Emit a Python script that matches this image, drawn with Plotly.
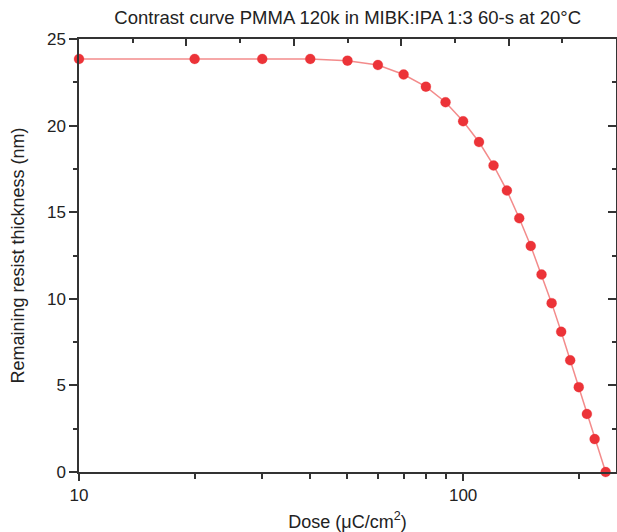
import plotly.graph_objects as go

dose = [10, 20, 30, 40, 50, 60, 70, 80, 90, 100, 110, 120, 130, 140, 150,
        160, 170, 180, 190, 200, 210, 220, 235]
thickness = [23.85, 23.85, 23.85, 23.85, 23.75, 23.5, 22.95, 22.25, 21.35, 20.25,
             19.05, 17.7, 16.25, 14.65, 13.05, 11.4, 9.75, 8.1, 6.45, 4.9,
             3.35, 1.9, 0.0]

x_major = [10, 100]
x_minor = [20, 30, 40, 50, 60, 70, 80, 90, 200]
y_major = [0, 5, 10, 15, 20, 25]

title = "Contrast curve PMMA 120k in MIBK:IPA 1:3 60-s at 20°C"
font_family = "Liberation Sans, Arial, Helvetica, sans-serif"

fig = go.Figure()
fig.add_trace(go.Scatter(
    x=dose, y=thickness, mode="lines+markers",
    line=dict(color="rgba(240,110,110,0.8)", width=1.5),
    marker=dict(color="#ec3338", size=10, line=dict(width=0.5, color="rgba(236,51,56,0.5)")),
    cliponaxis=False, showlegend=False,
))

# invisible trace so the mirror axes are drawn
fig.add_trace(go.Scatter(x=[None], y=[None], xaxis="x2", yaxis="y2", showlegend=False,
                         hoverinfo="skip"))

axis_line = dict(showline=True, linecolor="#333333", linewidth=1.5, showgrid=False,
                 zeroline=False, automargin=False)
tc = "#333333"

fig.update_layout(
    width=617, height=532,
    margin=dict(l=79, r=1, t=39, b=60),
    paper_bgcolor="white", plot_bgcolor="white",
    font=dict(family=font_family, color="#222222"),
    title=dict(text=title, x=0.5635, xanchor="center", y=0.967, yanchor="middle",
               font=dict(size=18.5, color="#222222")),
    xaxis=dict(
        type="log", range=[1, 2.398], **axis_line,
        tickmode="array", tickvals=x_major, ticktext=[str(v) for v in x_major],
        ticks="outside", ticklen=7, tickwidth=1.5, tickcolor=tc,
        minor=dict(tickmode="array", tickvals=x_minor, ticks="outside", ticklen=5,
                   tickwidth=1.5, tickcolor=tc),
        tickfont=dict(size=17, color="#222222"),
        title=dict(text="Dose (μC/cm<sup>2</sup>)", font=dict(size=18, color="#222222"), standoff=12),
    ),
    yaxis=dict(
        range=[0, 25], **axis_line,
        tickmode="array", tickvals=y_major,
        ticks="outside", ticklen=8, tickwidth=1.5, tickcolor=tc,
        minor=dict(dtick=2.5, tick0=0, ticks="outside", ticklen=4, tickwidth=1.5, tickcolor=tc),
        tickfont=dict(size=17, color="#222222"),
        title=dict(text="Remaining resist thickness (nm)", font=dict(size=18, color="#222222"), standoff=18),
    ),
    xaxis2=dict(
        overlaying="x", side="top", anchor="y", range=[0, 10], **axis_line,
        tickmode="linear", tick0=0, dtick=2, ticks="inside", ticklen=7, tickwidth=1.5,
        tickcolor=tc, showticklabels=False,
        minor=dict(dtick=1, tick0=0, ticks="inside", ticklen=4, tickwidth=1.5, tickcolor=tc),
    ),
    yaxis2=dict(
        overlaying="y", side="right", anchor="x", range=[0, 25], **axis_line,
        tickmode="linear", tick0=0, dtick=5, ticks="inside", ticklen=8, tickwidth=1.5,
        tickcolor=tc, showticklabels=False,
        minor=dict(dtick=2.5, tick0=0, ticks="inside", ticklen=4, tickwidth=1.5, tickcolor=tc),
    ),
)

fig.write_html("out.html", config={"displayModeBar": False},
               post_script="document.body.style.margin='0px';document.body.style.overflow='hidden';")
